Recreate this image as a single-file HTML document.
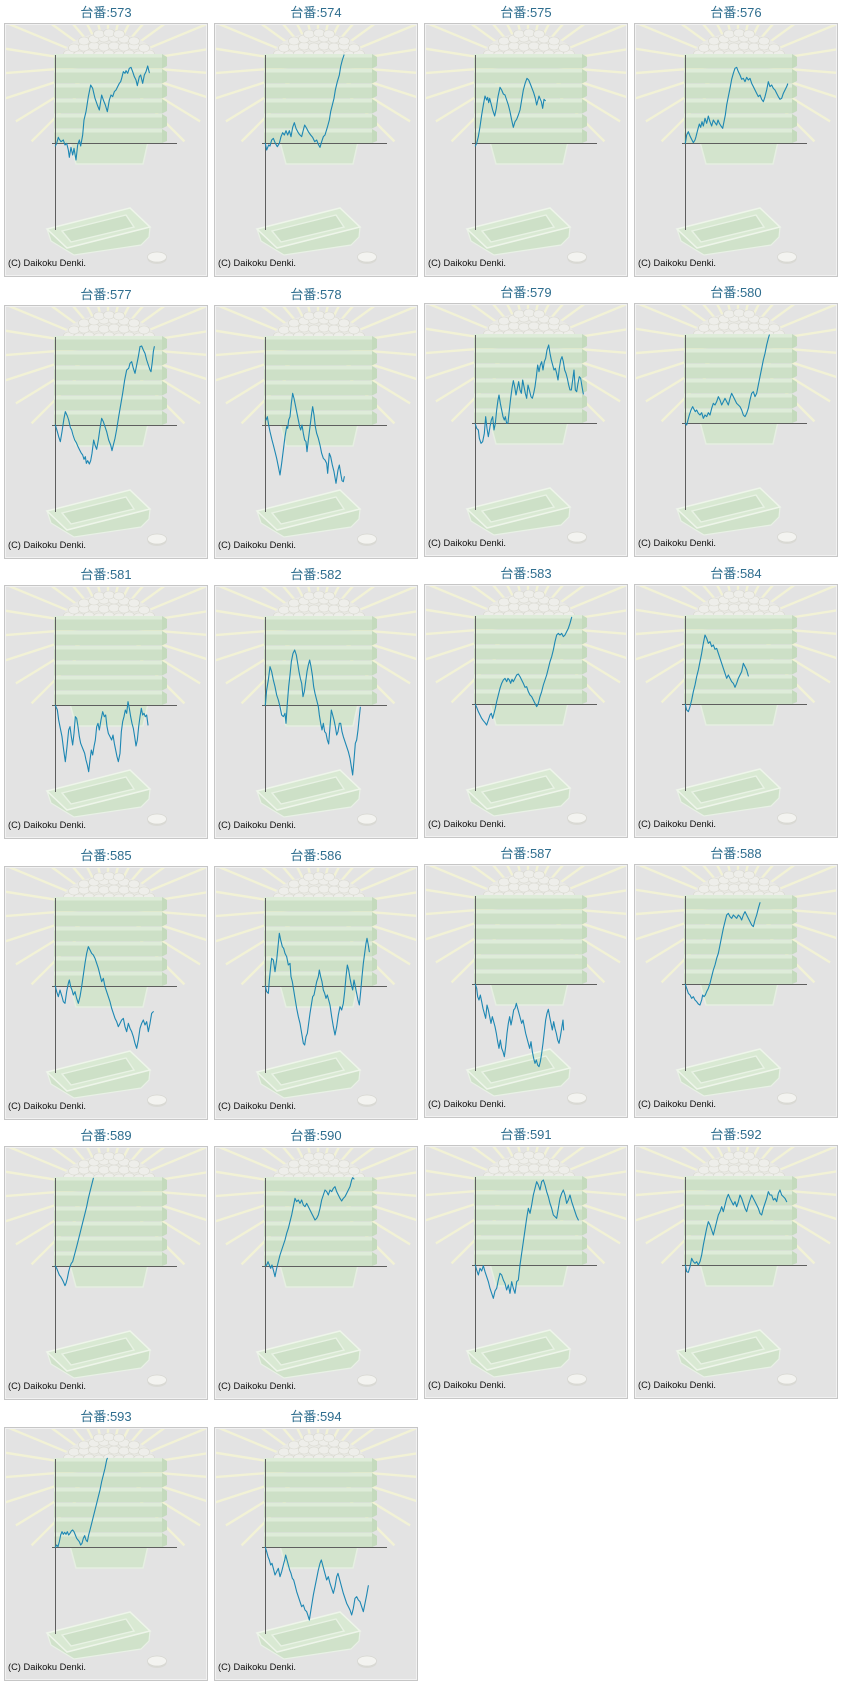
<!DOCTYPE html>
<html><head><meta charset="utf-8"><style>
html,body{margin:0;padding:0;background:#fff;}
svg{display:block;}
</style></head><body>
<svg width="841" height="1685" viewBox="0 0 841 1685" xmlns="http://www.w3.org/2000/svg">
<defs>
<symbol id="bg" viewBox="0 0 204 254" width="204" height="254">
 <rect x="0" y="0" width="204" height="254" fill="#e3e3e3"/>
 <g stroke="#f2f2d6" stroke-width="2.4" stroke-linecap="butt">
  <line x1="84.2" y1="61.8" x2="27.6" y2="118.4"/>
  <line x1="80.1" y1="56.6" x2="11.9" y2="98.4"/>
  <line x1="77.4" y1="50.7" x2="1.3" y2="75.4"/>
  <line x1="76.1" y1="44.2" x2="-3.7" y2="50.5"/>
  <line x1="76.3" y1="37.6" x2="-2.7" y2="25.1"/>
  <line x1="78.1" y1="31.3" x2="4.2" y2="0.7"/>
  <line x1="81.3" y1="25.5" x2="16.6" y2="-21.5"/>
  <line x1="85.8" y1="20.7" x2="33.9" y2="-40.1"/>
  <line x1="91.3" y1="17.1" x2="55" y2="-54.2"/>
  <line x1="97.5" y1="14.8" x2="78.8" y2="-63"/>
  <line x1="104" y1="14" x2="104" y2="-66"/>
  <line x1="110.5" y1="14.8" x2="129.2" y2="-63"/>
  <line x1="116.7" y1="17.1" x2="153" y2="-54.2"/>
  <line x1="122.2" y1="20.7" x2="174.1" y2="-40.1"/>
  <line x1="126.7" y1="25.5" x2="191.4" y2="-21.5"/>
  <line x1="129.9" y1="31.3" x2="203.8" y2="0.7"/>
  <line x1="131.7" y1="37.6" x2="210.7" y2="25.1"/>
  <line x1="131.9" y1="44.2" x2="211.7" y2="50.5"/>
  <line x1="130.6" y1="50.7" x2="206.7" y2="75.4"/>
  <line x1="127.9" y1="56.6" x2="196.1" y2="98.4"/>
  <line x1="123.8" y1="61.8" x2="180.4" y2="118.4"/>
 </g>
 <path d="M58,37 C58,22 76,11 104,9 C132,11 152,22 152,37 Z" fill="#e9e9e4"/>
 <g fill="#eeeeea" stroke="#d9d9d0" stroke-width="0.6">
  <ellipse cx="65" cy="31" rx="5.5" ry="4"/><ellipse cx="75" cy="32" rx="5.5" ry="4"/><ellipse cx="85" cy="31" rx="5.5" ry="4"/><ellipse cx="95" cy="32" rx="5.5" ry="4"/><ellipse cx="105" cy="31" rx="5.5" ry="4"/><ellipse cx="115" cy="32" rx="5.5" ry="4"/><ellipse cx="125" cy="31" rx="5.5" ry="4"/><ellipse cx="135" cy="32" rx="5.5" ry="4"/><ellipse cx="145" cy="31" rx="5.5" ry="4"/>
  <ellipse cx="70" cy="25" rx="5.5" ry="4"/><ellipse cx="80" cy="24" rx="5.5" ry="4"/><ellipse cx="90" cy="23" rx="5.5" ry="4"/><ellipse cx="100" cy="24" rx="5.5" ry="4"/><ellipse cx="110" cy="23" rx="5.5" ry="4"/><ellipse cx="120" cy="24" rx="5.5" ry="4"/><ellipse cx="130" cy="23" rx="5.5" ry="4"/><ellipse cx="140" cy="25" rx="5.5" ry="4"/>
  <ellipse cx="80" cy="18" rx="5.5" ry="4"/><ellipse cx="90" cy="16" rx="5.5" ry="4"/><ellipse cx="100" cy="15" rx="5.5" ry="4"/><ellipse cx="110" cy="15" rx="5.5" ry="4"/><ellipse cx="120" cy="16" rx="5.5" ry="4"/><ellipse cx="130" cy="18" rx="5.5" ry="4"/>
  <ellipse cx="95" cy="11" rx="5.5" ry="4"/><ellipse cx="105" cy="10" rx="5.5" ry="4"/><ellipse cx="115" cy="11" rx="5.5" ry="4"/>
 </g>
 <path d="M66,119 L144,119 L139,141 L72,141 Z" fill="#d3e4cd" stroke="#e6efe2" stroke-width="1.5"/>
 <g>
  <rect x="50" y="31" width="108" height="14.5" fill="#cde0c7"/><rect x="50" y="31" width="108" height="3.5" fill="#deecd9"/><path d="M158,31 L163,34 L163,43 L158,45.5 Z" fill="#c4dabd"/>
  <rect x="50" y="46" width="108" height="14.5" fill="#cde0c7"/><rect x="50" y="46" width="108" height="3.5" fill="#deecd9"/><path d="M158,46 L163,49 L163,58 L158,60.5 Z" fill="#c4dabd"/>
  <rect x="50" y="61" width="108" height="14.5" fill="#cde0c7"/><rect x="50" y="61" width="108" height="3.5" fill="#deecd9"/><path d="M158,61 L163,64 L163,73 L158,75.5 Z" fill="#c4dabd"/>
  <rect x="50" y="76" width="108" height="14.5" fill="#cde0c7"/><rect x="50" y="76" width="108" height="3.5" fill="#deecd9"/><path d="M158,76 L163,79 L163,88 L158,90.5 Z" fill="#c4dabd"/>
  <rect x="50" y="91" width="108" height="14.5" fill="#cde0c7"/><rect x="50" y="91" width="108" height="3.5" fill="#deecd9"/><path d="M158,91 L163,94 L163,103 L158,105.5 Z" fill="#c4dabd"/>
  <rect x="50" y="106" width="108" height="14" fill="#cde0c7"/><rect x="50" y="106" width="108" height="3.5" fill="#deecd9"/><path d="M158,106 L163,109 L163,118 L158,120 Z" fill="#c4dabd"/>
 </g>
 <path d="M43,206 L63,225 L146,204 L145,214 L137,222 L70,232 L47,218 Z" fill="#d0e2ca" stroke="#e9f1e6" stroke-width="1.2"/>
 <path d="M43,206 L126,185 L146,204 L63,225 Z" fill="#d9e9d3" stroke="#eef5ea" stroke-width="1.5"/>
 <path d="M58,208 L122,192 L130,204 L67,219 Z" fill="#cde0c7" stroke="#e8f2e4" stroke-width="1.4"/>
 <ellipse cx="153" cy="236" rx="9.5" ry="5" fill="#dadad5"/>
 <ellipse cx="153" cy="234" rx="9.5" ry="5" fill="#f3f3f0" stroke="#d6d6d0" stroke-width="0.7"/>
 <line x1="51.5" y1="32" x2="51.5" y2="207" stroke="#5e5e5e" stroke-width="1"/>
 <line x1="48" y1="120.5" x2="173" y2="120.5" stroke="#5e5e5e" stroke-width="1"/>
 <rect x="0.5" y="0.5" width="203" height="253" fill="none" stroke="#c6c6c6" stroke-width="1"/>
 <rect x="1.5" y="1.5" width="201" height="251" fill="none" stroke="#f1f1f1" stroke-width="1"/>
</symbol>
</defs>

<!-- boxes -->
<use href="#bg" x="4" y="23" width="204" height="254"/>
<use href="#bg" x="214" y="23" width="204" height="254"/>
<use href="#bg" x="424" y="23" width="204" height="254"/>
<use href="#bg" x="634" y="23" width="204" height="254"/>
<use href="#bg" x="4" y="305" width="204" height="254"/>
<use href="#bg" x="214" y="305" width="204" height="254"/>
<use href="#bg" x="424" y="303" width="204" height="254"/>
<use href="#bg" x="634" y="303" width="204" height="254"/>
<use href="#bg" x="4" y="585" width="204" height="254"/>
<use href="#bg" x="214" y="585" width="204" height="254"/>
<use href="#bg" x="424" y="584" width="204" height="254"/>
<use href="#bg" x="634" y="584" width="204" height="254"/>
<use href="#bg" x="4" y="866" width="204" height="254"/>
<use href="#bg" x="214" y="866" width="204" height="254"/>
<use href="#bg" x="424" y="864" width="204" height="254"/>
<use href="#bg" x="634" y="864" width="204" height="254"/>
<use href="#bg" x="4" y="1146" width="204" height="254"/>
<use href="#bg" x="214" y="1146" width="204" height="254"/>
<use href="#bg" x="424" y="1145" width="204" height="254"/>
<use href="#bg" x="634" y="1145" width="204" height="254"/>
<use href="#bg" x="4" y="1427" width="204" height="254"/>
<use href="#bg" x="214" y="1427" width="204" height="254"/>

<!-- titles -->
<g font-family="'Liberation Sans','Noto Sans CJK JP',sans-serif" font-size="13" fill="#2e6d8e" text-anchor="middle">
<text x="106" y="17">台番:573</text>
<text x="316" y="17">台番:574</text>
<text x="526" y="17">台番:575</text>
<text x="736" y="17">台番:576</text>
<text x="106" y="299">台番:577</text>
<text x="316" y="299">台番:578</text>
<text x="526" y="297">台番:579</text>
<text x="736" y="297">台番:580</text>
<text x="106" y="579">台番:581</text>
<text x="316" y="579">台番:582</text>
<text x="526" y="578">台番:583</text>
<text x="736" y="578">台番:584</text>
<text x="106" y="860">台番:585</text>
<text x="316" y="860">台番:586</text>
<text x="526" y="858">台番:587</text>
<text x="736" y="858">台番:588</text>
<text x="106" y="1140">台番:589</text>
<text x="316" y="1140">台番:590</text>
<text x="526" y="1139">台番:591</text>
<text x="736" y="1139">台番:592</text>
<text x="106" y="1421">台番:593</text>
<text x="316" y="1421">台番:594</text>
</g>

<!-- copyright -->
<g font-family="'Liberation Sans',sans-serif" font-size="9.3" fill="#111">
<text x="8" y="266">(C) Daikoku Denki.</text>
<text x="218" y="266">(C) Daikoku Denki.</text>
<text x="428" y="266">(C) Daikoku Denki.</text>
<text x="638" y="266">(C) Daikoku Denki.</text>
<text x="8" y="548">(C) Daikoku Denki.</text>
<text x="218" y="548">(C) Daikoku Denki.</text>
<text x="428" y="546">(C) Daikoku Denki.</text>
<text x="638" y="546">(C) Daikoku Denki.</text>
<text x="8" y="828">(C) Daikoku Denki.</text>
<text x="218" y="828">(C) Daikoku Denki.</text>
<text x="428" y="827">(C) Daikoku Denki.</text>
<text x="638" y="827">(C) Daikoku Denki.</text>
<text x="8" y="1109">(C) Daikoku Denki.</text>
<text x="218" y="1109">(C) Daikoku Denki.</text>
<text x="428" y="1107">(C) Daikoku Denki.</text>
<text x="638" y="1107">(C) Daikoku Denki.</text>
<text x="8" y="1389">(C) Daikoku Denki.</text>
<text x="218" y="1389">(C) Daikoku Denki.</text>
<text x="428" y="1388">(C) Daikoku Denki.</text>
<text x="638" y="1388">(C) Daikoku Denki.</text>
<text x="8" y="1670">(C) Daikoku Denki.</text>
<text x="218" y="1670">(C) Daikoku Denki.</text>
</g>

<!-- series -->
<g fill="none" stroke="#1d87b3" stroke-width="3.3" stroke-linejoin="round" stroke-linecap="round">
<g transform="translate(0,40) scale(0.333333)">
<polyline points="166,318 170,310 175,292 178,298 183,305 190,300 195,315 200,310 205,330 208,352 213,322 218,345 222,325 228,360 233,315 238,300 242,318 248,285 252,240 258,215 265,170 272,135 278,145 285,175 292,195 298,210 305,165 310,180 316,195 322,215 328,180 333,165 338,170 343,155 348,150 353,140 358,130 362,125 365,115 370,95 375,100 378,92 383,100 388,85 393,82 398,95 403,110 408,120 412,137 418,110 422,105 428,130 433,105 438,95 443,78 448,98"/>
<polyline points="796,310 800,330 806,315 810,318 815,300 820,295 826,310 832,320 838,310 843,290 848,278 853,285 858,272 863,285 868,272 873,290 878,262 883,248 888,265 893,275 898,283 905,290 910,270 914,255 920,265 925,275 932,285 938,292 944,305 950,300 955,313 960,322 965,305 970,290 975,285 982,262 988,240 992,215 997,195 1002,175 1006,150 1012,125 1018,105 1022,80 1027,60 1032,45"/>
<polyline points="166,1155 172,1175 176,1190 181,1205 186,1175 192,1135 196,1115 202,1128 206,1140 211,1162 215,1170 219,1185 224,1200 229,1208 234,1220 238,1228 243,1238 248,1245 252,1258 256,1250 259,1270 263,1262 268,1272 272,1262 276,1240 281,1200 285,1215 290,1228 295,1200 300,1165 305,1135 310,1145 315,1160 320,1175 326,1200 332,1215 336,1232 340,1215 345,1195 350,1168 356,1130 362,1095 368,1060 374,1020 380,990 386,985 390,970 395,965 400,985 405,1000 410,975 415,950 420,920 425,918 430,930 435,940 440,960 445,975 450,990 453,995 457,965 460,935 463,920"/>
<polyline points="798,1140 802,1130 806,1155 810,1175 816,1200 820,1215 825,1235 830,1255 835,1280 840,1305 845,1270 850,1230 855,1190 860,1160 863,1165 866,1140 870,1130 874,1090 878,1060 882,1075 887,1100 891,1120 895,1140 899,1160 902,1170 906,1155 910,1180 914,1200 918,1205 921,1235 925,1200 930,1160 935,1120 938,1100 942,1125 946,1160 950,1180 955,1195 960,1215 965,1240 970,1255 975,1260 980,1270 983,1300 988,1240 992,1250 997,1275 1002,1295 1008,1330 1014,1290 1018,1275 1022,1300 1026,1322 1030,1325 1033,1310"/>
</g>
<g transform="translate(420,40) scale(0.333333)">
<polyline points="166,318 170,310 175,290 180,260 185,225 190,195 195,168 200,180 203,172 206,188 209,175 213,190 218,210 224,228 229,205 234,170 240,142 245,150 250,162 255,165 260,180 265,195 270,215 275,240 280,262 285,245 290,238 295,225 300,210 305,180 310,150 316,128 321,115 326,120 331,132 336,145 341,158 346,175 350,195 354,180 357,168 361,178 364,185 368,205 372,178 376,182"/>
<polyline points="796,310 800,285 805,275 810,288 815,298 820,308 825,300 828,290 833,270 838,252 842,262 846,245 850,258 855,235 860,250 865,228 870,245 875,258 880,240 885,248 890,255 894,240 898,250 903,258 908,265 912,245 916,225 920,195 925,170 930,145 935,118 940,100 945,85 950,82 955,95 960,105 965,118 970,115 975,125 980,112 985,120 990,115 995,130 1000,140 1005,150 1010,160 1015,170 1020,165 1025,178 1030,185 1035,170 1040,150 1045,125 1050,140 1055,135 1060,145 1065,150 1070,160 1075,170 1080,178 1085,175 1090,160 1095,150 1100,140 1103,132"/>
<polyline points="166,1152 170,1165 175,1170 178,1195 183,1210 188,1205 193,1180 197,1130 201,1165 205,1190 210,1160 214,1140 218,1130 222,1170 226,1150 230,1110 234,1080 237,1065 241,1090 245,1110 249,1130 253,1140 256,1130 260,1150 264,1148 268,1110 272,1075 276,1045 280,1022 284,1040 288,1065 292,1045 296,1025 300,1050 304,1060 308,1020 312,1040 316,1060 320,1075 324,1035 328,1050 333,1070 337,1075 341,1060 345,1040 349,1010 353,975 357,995 361,975 365,965 369,990 373,965 377,955 381,930 386,915 390,940 394,960 398,975 402,990 406,985 410,1000 414,1020 418,985 422,960 426,950 430,965 434,990 438,1000 442,1015 446,1035 450,1050 454,1050 458,1020 462,990 466,1050 470,1055 474,1030 478,1010 482,1015 486,1040 490,1062"/>
<polyline points="796,1150 800,1155 804,1140 808,1125 813,1110 818,1100 822,1108 826,1115 830,1110 835,1120 840,1125 845,1118 850,1135 855,1125 860,1130 865,1118 870,1125 875,1105 880,1090 885,1095 890,1085 895,1070 900,1080 905,1095 910,1085 915,1075 920,1085 925,1095 930,1075 935,1060 940,1070 945,1080 950,1090 955,1095 960,1100 965,1110 970,1125 975,1130 980,1120 985,1105 990,1080 995,1060 1000,1055 1005,1070 1010,1060 1015,1035 1020,1010 1025,985 1030,960 1035,940 1040,915 1045,895 1048,885"/>
</g>
<g transform="translate(0,600) scale(0.333333)">
<polyline points="166,316 172,330 176,360 181,385 186,410 191,450 196,485 201,440 206,390 210,380 214,410 218,435 222,400 226,350 230,355 234,380 238,410 242,430 246,440 250,450 254,460 258,480 262,495 266,515 270,480 274,450 278,465 282,440 286,420 290,380 294,370 298,390 303,360 308,335 313,350 317,345 321,380 325,400 330,410 335,420 339,405 343,430 347,450 351,470 355,485 360,460 364,395 368,365 372,350 376,330 380,340 384,305 388,325 392,350 396,370 400,385 404,410 408,438 412,420 416,380 420,350 424,325 428,345 432,340 436,350 440,345 444,375"/>
<polyline points="796,316 800,270 805,240 810,200 815,215 820,240 825,260 830,285 835,300 840,320 845,345 850,350 855,340 858,370 862,310 866,260 870,225 874,185 879,160 884,150 889,165 893,190 897,215 901,235 905,250 909,290 913,275 917,245 921,215 925,195 929,180 933,200 937,225 941,260 945,280 950,300 955,320 958,345 962,370 966,390 970,370 974,395 978,400 982,420 986,432 990,380 994,330 998,345 1002,360 1006,380 1010,405 1014,395 1018,370 1022,370 1026,395 1030,410 1035,425 1040,440 1045,455 1050,475 1054,500 1058,525 1062,480 1066,430 1070,420 1074,390 1078,350 1081,322"/>
<polyline points="166,1158 170,1175 175,1190 180,1170 186,1190 190,1205 195,1210 200,1175 205,1150 208,1140 212,1160 216,1170 220,1185 225,1175 230,1195 235,1210 240,1190 245,1160 250,1125 255,1090 260,1060 265,1040 270,1050 275,1060 280,1065 285,1075 290,1090 295,1105 300,1125 305,1145 310,1135 315,1160 320,1175 325,1190 330,1205 335,1225 340,1240 345,1255 350,1265 355,1280 360,1270 365,1260 370,1255 375,1280 380,1295 385,1270 390,1285 395,1295 400,1310 405,1330 410,1345 415,1320 420,1285 425,1270 430,1260 435,1275 440,1265 445,1295 450,1270 455,1240 460,1235"/>
<polyline points="796,1158 800,1175 805,1180 808,1140 812,1100 815,1075 820,1080 825,1115 830,1080 835,1030 838,1000 842,1020 847,1040 851,1045 855,1060 860,1070 865,1095 870,1090 873,1130 877,1145 881,1170 885,1195 890,1225 895,1250 900,1270 905,1300 910,1330 914,1335 918,1310 922,1300 926,1270 930,1240 934,1215 938,1190 942,1185 946,1165 950,1145 955,1130 958,1110 962,1130 966,1145 970,1170 974,1180 978,1195 982,1185 986,1200 990,1215 995,1250 1000,1280 1005,1305 1010,1280 1015,1245 1020,1220 1025,1230 1030,1210 1034,1175 1038,1130 1042,1095 1046,1110 1050,1135 1054,1155 1058,1170 1062,1140 1066,1160 1070,1180 1074,1200 1078,1215 1082,1175 1086,1130 1090,1090 1094,1060 1098,1030 1101,1015 1104,1030 1108,1055"/>
</g>
<g transform="translate(420,600) scale(0.333333)">
<polyline points="166,313 170,322 175,335 180,345 185,355 190,362 195,368 200,375 205,360 210,345 214,340 218,355 222,340 226,325 230,305 235,285 240,265 245,250 250,240 255,235 260,245 264,235 268,240 272,250 276,238 280,245 285,235 290,225 295,222 300,230 305,240 310,250 315,262 320,260 325,275 330,285 335,290 340,300 345,310 350,320 355,310 360,290 365,275 370,255 375,240 380,225 385,205 390,185 395,170 400,150 405,125 410,105 415,100 420,105 425,100 430,110 435,105 440,95 445,85 450,70 455,52"/>
<polyline points="796,313 800,330 805,335 810,320 815,300 820,275 825,255 830,230 835,210 840,185 845,160 850,130 855,105 860,115 865,130 870,125 875,140 880,135 885,148 890,145 895,160 900,175 905,190 910,205 915,220 920,235 925,225 930,235 935,245 940,250 945,262 950,250 955,235 960,225 965,215 970,190 975,200 980,210 985,228"/>
<polyline points="166,1153 170,1165 173,1190 177,1200 181,1185 185,1205 189,1225 193,1240 197,1255 201,1215 205,1230 209,1250 213,1270 217,1250 221,1265 225,1280 229,1300 233,1325 237,1345 241,1320 245,1345 249,1355 253,1370 257,1340 261,1300 265,1270 269,1250 273,1275 277,1255 281,1230 285,1225 289,1210 293,1225 297,1240 301,1255 305,1270 309,1260 313,1280 317,1300 321,1315 325,1330 329,1345 333,1325 337,1355 341,1375 345,1390 349,1380 353,1395 357,1400 361,1385 365,1360 369,1330 373,1295 377,1260 381,1240 385,1228 389,1250 393,1270 397,1290 401,1265 405,1285 409,1300 413,1320 417,1330 421,1310 425,1285 429,1260 431,1290"/>
<polyline points="796,1153 800,1165 805,1180 810,1185 815,1195 820,1190 825,1200 830,1205 835,1212 840,1215 845,1200 848,1185 852,1190 856,1185 860,1175 865,1165 870,1150 875,1130 880,1110 885,1095 890,1075 895,1060 900,1035 905,1010 910,985 915,965 920,945 925,940 930,950 935,955 940,945 945,950 950,955 955,945 960,950 965,960 970,945 975,935 980,945 985,955 990,965 995,975 1000,980 1005,960 1010,945 1015,925 1020,908"/>
</g>
<g transform="translate(0,1165) scale(0.333333)">
<polyline points="166,303 170,310 174,320 178,330 182,335 186,342 190,350 195,362 198,355 202,340 206,320 210,305 214,295 218,290 222,275 226,260 230,245 235,225 240,205 245,185 250,165 255,145 260,125 265,100 270,80 275,60 280,40"/>
<polyline points="796,303 800,300 804,290 808,300 812,310 816,300 820,315 825,335 830,310 835,290 840,270 845,255 850,240 855,225 860,205 865,190 870,170 875,150 880,125 885,100 890,110 895,105 900,115 905,105 910,120 915,125 920,115 925,125 930,135 935,145 940,155 945,165 950,160 955,150 960,130 965,105 970,90 975,75 980,80 985,90 990,75 995,80 1000,70 1005,65 1010,80 1015,90 1020,100 1025,108 1030,100 1035,95 1040,85 1045,75 1050,65 1055,45 1058,38 1062,42"/>
<polyline points="166,1147 170,1140 174,1145 178,1130 182,1110 186,1100 190,1108 194,1102 198,1108 202,1100 206,1110 210,1105 214,1098 218,1095 222,1100 226,1110 230,1120 234,1125 238,1130 242,1140 246,1135 250,1120 254,1112 258,1125 262,1130 266,1110 270,1095 275,1075 280,1055 285,1035 290,1015 295,995 300,975 305,950 310,930 315,910 320,885 322,880"/>
<polyline points="796,1147 800,1160 804,1175 808,1185 812,1200 816,1195 820,1210 825,1230 830,1220 835,1210 840,1235 845,1220 850,1200 854,1185 857,1170 861,1185 865,1200 869,1215 873,1225 877,1240 881,1245 885,1260 890,1280 895,1295 900,1310 905,1325 910,1320 915,1335 920,1340 925,1355 928,1365 932,1340 936,1315 940,1290 945,1265 950,1240 955,1215 960,1195 964,1185 968,1200 972,1215 976,1230 980,1245 985,1235 990,1255 995,1270 1000,1285 1005,1265 1010,1235 1014,1225 1018,1240 1022,1255 1026,1270 1030,1285 1035,1300 1040,1315 1045,1325 1050,1335 1055,1350 1060,1330 1065,1300 1070,1295 1075,1305 1080,1310 1085,1325 1090,1340 1095,1315 1100,1290 1105,1262"/>
</g>
<g transform="translate(420,1165) scale(0.333333)">
<polyline points="166,300 170,315 175,330 180,310 185,318 190,302 195,320 200,335 205,350 210,370 215,385 220,400 225,378 230,370 235,345 240,325 245,330 250,345 255,355 260,375 265,360 270,385 275,350 280,370 285,385 290,350 295,345 300,300 305,265 310,230 315,195 320,160 325,130 330,145 335,120 340,90 345,70 350,50 355,60 360,75 365,50 370,45 375,60 380,80 385,95 390,115 395,130 400,150 405,155 410,160 415,130 420,100 425,85 430,75 435,90 440,115 445,105 450,90 455,110 460,125 465,140 470,155 475,165"/>
<polyline points="796,300 800,320 805,322 810,305 815,280 820,290 825,295 830,290 835,300 840,290 845,270 850,240 855,215 860,190 865,170 870,180 875,195 880,210 885,190 890,170 895,150 900,140 905,125 910,140 915,120 920,100 925,88 930,100 935,110 940,120 945,110 950,125 955,110 960,90 965,100 970,115 975,130 980,140 985,120 990,105 995,90 1000,100 1005,110 1010,120 1015,130 1020,145 1025,150 1030,130 1035,115 1040,100 1045,80 1050,90 1055,90 1060,105 1065,100 1070,110 1075,85 1080,75 1085,90 1090,95 1095,100 1100,110"/>
</g>
</g>
</svg>
</body></html>
